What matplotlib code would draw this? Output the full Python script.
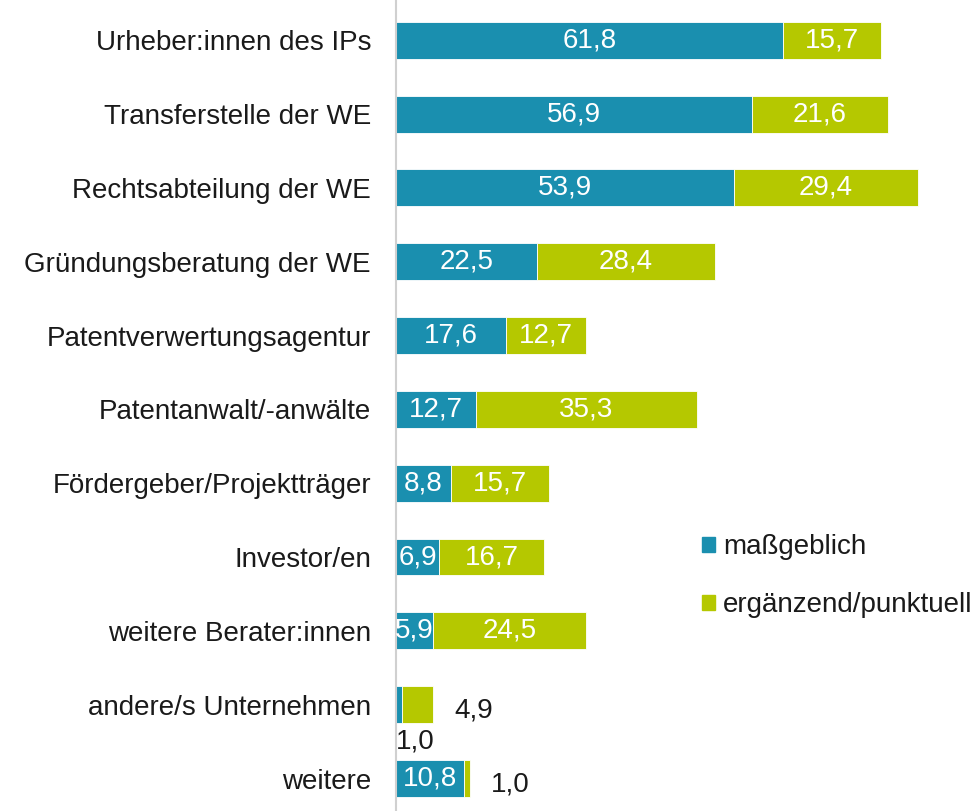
import matplotlib
matplotlib.use("Agg")
import matplotlib.pyplot as plt
from matplotlib.patches import Patch

categories = ["Urheber:innen des IPs", "Transferstelle der WE", "Rechtsabteilung der WE",
              "Gründungsberatung der WE", "Patentverwertungsagentur", "Patentanwalt/-anwälte",
              "Fördergeber/Projektträger", "Investor/en", "weitere Berater:innen",
              "andere/s Unternehmen", "weitere"]
massgeblich = [61.8, 56.9, 53.9, 22.5, 17.6, 12.7, 8.8, 6.9, 5.9, 1.0, 10.8]
ergaenzend = [15.7, 21.6, 29.4, 28.4, 12.7, 35.3, 15.7, 16.7, 24.5, 4.9, 1.0]
series_names = ["maßgeblich", "ergänzend/punktuell"]

BLUE = "#1A8FAF"
GREEN = "#B5C800"
plt.rcParams['font.family'] = ['Liberation Sans', 'DejaVu Sans']

fig = plt.figure(figsize=(9.77, 8.11), dpi=100)
ax = fig.add_axes([396/977, 0, 1 - 396/977, 1])

y = list(range(len(categories)))
h = 0.5
ax.barh(y, massgeblich, height=h, color=BLUE, edgecolor='white', linewidth=0.6)
ax.barh(y, ergaenzend, left=massgeblich, height=h, color=GREEN, edgecolor='white', linewidth=0.6)

fs = 20
def fmt(v):
    return f"{v:.1f}".replace(".", ",")

for i, (a, b) in enumerate(zip(massgeblich, ergaenzend)):
    if a >= 5:
        ax.text(a / 2, i, fmt(a), ha='center', va='center', color='white', fontsize=fs)
    else:
        ax.text(0, i + 0.5, fmt(a), ha='left', va='center', color='#1a1a1a', fontsize=fs)
    if b >= 5:
        ax.text(a + b / 2, i, fmt(b), ha='center', va='center', color='white', fontsize=fs)
    else:
        ax.text(a + b + 3.4, i + 0.08, fmt(b), ha='left', va='center', color='#1a1a1a', fontsize=fs)

ax.set_xlim(0, 581 / 6.262)
ax.set_ylim(10.44, -0.545)
ax.set_xticks([])
ax.set_yticks(y)
ax.set_yticklabels(categories, fontsize=fs, color='#1a1a1a')
ax.tick_params(axis='y', length=0, pad=18)
for s in ["top", "right", "bottom"]:
    ax.spines[s].set_visible(False)
ax.spines["left"].set_color("#D0D0D0")
ax.spines["left"].set_linewidth(1.5)

handles = [Patch(color=BLUE), Patch(color=GREEN)]
fig.legend(handles, series_names, loc='center left', bbox_to_anchor=(677/977, 1 - 576/811),
           frameon=False, fontsize=fs, handlelength=0.45, handleheight=0.45, handletextpad=0.3,
           labelspacing=1.15, labelcolor='#1a1a1a')

fig.savefig("out.png", dpi=100)
